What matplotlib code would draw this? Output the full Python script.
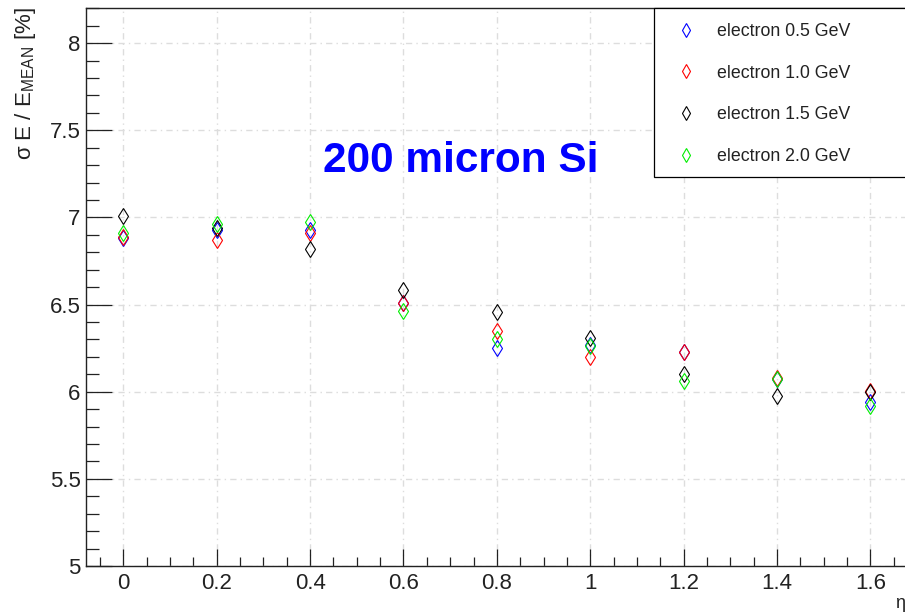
import matplotlib
matplotlib.use("Agg")
import matplotlib.pyplot as plt
from matplotlib.patches import Rectangle
from matplotlib.ticker import MultipleLocator

plt.rcParams["font.family"] = ["Liberation Sans", "DejaVu Sans"]
plt.rcParams["mathtext.fontset"] = "custom"
plt.rcParams["mathtext.rm"] = "Liberation Sans"
plt.rcParams["mathtext.it"] = "Liberation Sans:italic"

# -----------------------------
# Energy resolution vs eta
# -----------------------------
eta = [0.0, 0.2, 0.4, 0.6, 0.8, 1.0, 1.2, 1.4, 1.6]
res_05 = [6.88, 6.93, 6.93, 6.51, 6.25, 6.27, 6.23, 6.07, 5.94]
res_10 = [6.89, 6.87, 6.91, 6.51, 6.35, 6.20, 6.23, 6.08, 6.005]
res_15 = [7.01, 6.94, 6.82, 6.585, 6.455, 6.31, 6.10, 5.975, 6.00]
res_20 = [6.91, 6.96, 6.975, 6.465, 6.30, 6.26, 6.06, 6.075, 5.92]

labels = ["electron 0.5 GeV", "electron 1.0 GeV", "electron 1.5 GeV", "electron 2.0 GeV"]
colors = ["#0000ff", "#ff0000", "#000000", "#00ee00"]
series = [res_05, res_10, res_15, res_20]

W, H = 905, 614
fig = plt.figure(figsize=(W / 100, H / 100), dpi=100)

# axes frame runs past the right edge of the canvas
x0, x1 = -0.08, 1.72
y0, y1 = 5.0, 8.2
px_x = 466.9
px_y = 174.3
left_px, bottom_px = 86, 566
ax = fig.add_axes([left_px / W, (H - bottom_px) / H,
                   (x1 - x0) * px_x / W, (y1 - y0) * px_y / H])
ax.set_xlim(x0, x1)
ax.set_ylim(y0, y1)

handles = []
for vals, c, lab in zip(series, colors, labels):
    h, = ax.plot(eta, vals, linestyle="none", marker="d", markersize=8,
                 markerfacecolor="none", markeredgecolor=c, markeredgewidth=0.8,
                 label=lab, zorder=3)
    handles.append(h)

ax.xaxis.set_major_locator(MultipleLocator(0.2))
ax.xaxis.set_minor_locator(MultipleLocator(0.05))
ax.yaxis.set_major_locator(MultipleLocator(0.5))
ax.yaxis.set_minor_locator(MultipleLocator(0.1))
ax.xaxis.set_major_formatter(plt.FuncFormatter(lambda v, p: f"{v:g}"))
ax.yaxis.set_major_formatter(plt.FuncFormatter(lambda v, p: f"{v:g}"))

ax.tick_params(axis="both", which="both", direction="in", top=False, right=False,
               width=0.9, color="#222222", labelcolor="#222222", labelsize=16)
ax.tick_params(axis="y", which="major", length=19, pad=4)
ax.tick_params(axis="y", which="minor", length=9.5)
ax.tick_params(axis="x", which="major", length=12.5, pad=5)
ax.tick_params(axis="x", which="minor", length=6.5)

for s in ax.spines.values():
    s.set_linewidth(1.0)
    s.set_color("#222222")

ax.grid(True, which="major", color="#dddddd", linewidth=1.0,
        dashes=(4.5, 3, 1, 3), zorder=0)
ax.set_axisbelow(True)

# legend box (extends past the right edge like the frame)
fig.add_artist(Rectangle((654 / W, 1 - 177 / H), 300 / W, 169 / H,
                         transform=fig.transFigure, facecolor="white",
                         edgecolor="black", linewidth=0.9, zorder=5))
leg = fig.legend(handles=handles, loc="upper left",
                 bbox_to_anchor=(677 / W, 1 - 23 / H),
                 bbox_transform=fig.transFigure, frameon=False, fontsize=12.75,
                 handlelength=1.0, handletextpad=1.25, labelspacing=1.39,
                 borderpad=0, borderaxespad=0, markerscale=0.85)
leg.set_zorder(6)
for t in leg.get_texts():
    t.set_color("#222222")

fig.text(323 / W, 1 - 172 / H, "200 micron Si", color="#0000ff",
         fontsize=30.5, fontweight="bold", va="baseline", ha="left")

fig.text(26 / W, 1 - 7 / H, r"σ E / E$_{\mathrm{MEAN}}$ [%]", rotation=90,
         fontsize=16, ha="center", va="top", color="#222222")
fig.text(900 / W, 1 - 603 / H, "η", fontsize=13, ha="center", va="center",
         color="#222222")

fig.savefig("out.png", dpi=100)
